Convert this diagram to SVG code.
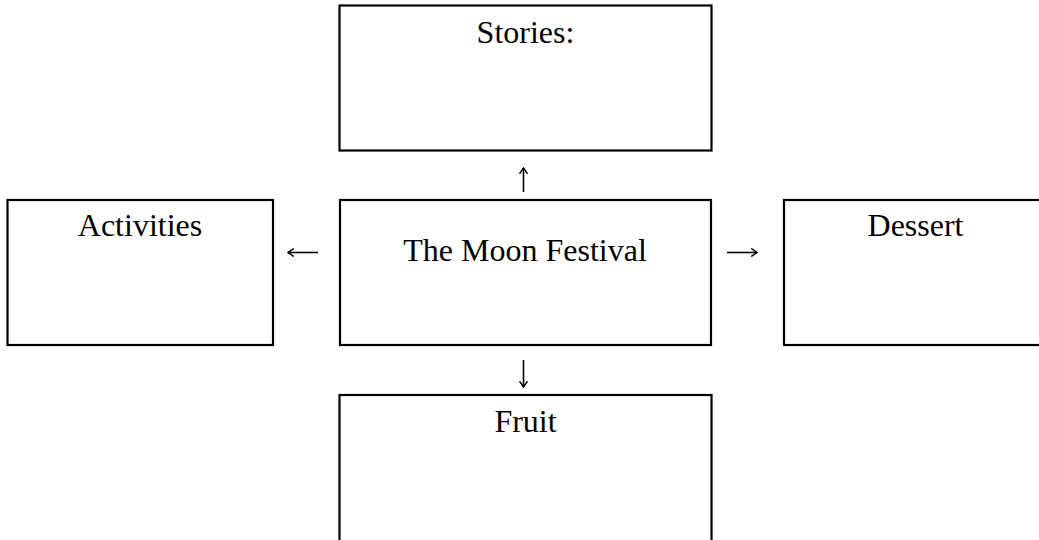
<svg xmlns="http://www.w3.org/2000/svg" width="1039" height="540" viewBox="0 0 1039 540">
<style>
.box{fill:#fff;stroke:#000;stroke-width:2.2}
.lbl{font-family:"Liberation Serif","Times New Roman",serif;font-size:32px;fill:#000;text-anchor:middle}
.arr{stroke:#000;stroke-width:1.6;fill:none}
</style>
<defs>
<marker id="ah" viewBox="0 0 7 9" refX="6.3" refY="4.5" markerWidth="7" markerHeight="9" markerUnits="userSpaceOnUse" orient="auto">
<path d="M0.5,0.5 L6.3,4.5 L0.5,8.5" fill="none" stroke="#000" stroke-width="1.5"/>
</marker>
</defs>
<rect x="0" y="0" width="1039" height="540" fill="#fff"/>
<g id="stories"><rect class="box" x="339.5" y="5.5" width="372" height="145"/><text class="lbl" x="525.5" y="43">Stories:</text></g>
<g id="activities"><rect class="box" x="7.5" y="200" width="265.5" height="145"/><text class="lbl" x="140" y="236">Activities</text></g>
<g id="moon"><rect class="box" x="340" y="200" width="371" height="145"/><text class="lbl" x="525" y="261">The Moon Festival</text></g>
<g id="dessert"><rect class="box" x="784" y="200" width="263" height="145"/><text class="lbl" x="915.5" y="236">Dessert</text></g>
<g id="fruit"><rect class="box" x="339.5" y="395" width="372" height="160"/><text class="lbl" x="525.5" y="432">Fruit</text></g>
<g id="connectors">
<line class="arr" x1="523.5" y1="192" x2="523.5" y2="168" marker-end="url(#ah)"/>
<line class="arr" x1="523.5" y1="360" x2="523.5" y2="387" marker-end="url(#ah)"/>
<line class="arr" x1="318" y1="252.5" x2="288" y2="252.5" marker-end="url(#ah)"/>
<line class="arr" x1="727" y1="252.5" x2="757" y2="252.5" marker-end="url(#ah)"/>
</g>
</svg>
